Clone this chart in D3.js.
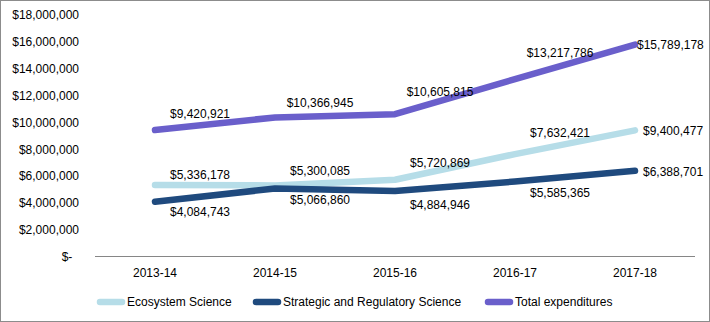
<!DOCTYPE html>
<html>
<head>
<meta charset="utf-8">
<script src="https://cdnjs.cloudflare.com/ajax/libs/d3/7.8.5/d3.min.js"></script>
<style>
  body { margin: 0; background: #fff; }
  svg text { font-family: "Liberation Sans", Arial, sans-serif; fill: #000; }
</style>
</head>
<body>
<div id="chart"></div>
<script>
// fiscal years on the x axis
var years = ["2013-14", "2014-15", "2015-16", "2016-17", "2017-18"];

// expenditures per series
var ecosystem = [5336178, 5300085, 5720869, 7632421, 9400477];
var strategic = [4084743, 5066860, 4884946, 5585365, 6388701];
var total = [9420921, 10366945, 10605815, 13217786, 15789178];

var seriesNames = ["Ecosystem Science", "Strategic and Regulatory Science", "Total expenditures"];
var yTicks = [0, 2000000, 4000000, 6000000, 8000000, 10000000, 12000000, 14000000, 16000000, 18000000];

var svg_width = 710;
var svg_height = 322;
var margins = { top: 15, bottom: 66, right: 15, left: 95 };
var width = svg_width - margins.left - margins.right;
var height = svg_height - margins.top - margins.bottom;

var svg = d3.select("#chart")
            .append("svg")
            .attr("width", svg_width)
            .attr("height", svg_height);

// outer frame
svg.append("rect")
   .attr("x", 0.5).attr("y", 0.5)
   .attr("width", svg_width - 1).attr("height", svg_height - 1)
   .style("fill", "none")
   .style("stroke", "#8c8c8c");

var g = svg.append("g")
           .attr("transform", "translate(" + margins.left + "," + margins.top + ")");

var x = d3.scaleBand()
          .domain(years)
          .range([0, width]);

var y = d3.scaleLinear()
          .domain([0, 18000000])
          .range([height + 0.5, 0]);

var money = d3.format("$,");
function tickMoney(d) { return d === 0 ? "$-  " : money(d); }

// y axis: labels only
var yAxis = d3.axisLeft(y)
              .tickValues(yTicks)
              .tickFormat(tickMoney)
              .tickSize(0)
              .tickPadding(16);

g.append("g")
 .attr("class", "y axis")
 .call(yAxis)
 .call(a => a.select(".domain").remove())
 .selectAll("text")
 .style("font-size", "12px")
 .style("white-space", "pre");

// x axis baseline and category labels
var xAxis = d3.axisBottom(x).tickSize(0).tickPadding(12);

g.append("g")
 .attr("class", "x axis")
 .attr("transform", "translate(0," + (height + 0.5) + ")")
 .call(xAxis)
 .call(a => a.select(".domain").attr("stroke", "#868686").attr("d", "M0,0H" + width))
 .selectAll("text")
 .style("font-size", "12px");

var colors = ["#b6dde8", "#1f4a7e", "#6a5fcb"];
var seriesData = [ecosystem, strategic, total];

// label placement for each series: offset from the point (last point sits to the right)
var labelDy = [
  [-10, -15, -17, -21, 0],
  [10, 11, 14, 11, 1],
  [-16, -15, -22, -26, 0]
];
var lastDx = [8, 8, 2];

var line = d3.line()
             .x((d, i) => x(years[i]) + x.bandwidth() / 2)
             .y(d => y(d));

seriesData.forEach(function(vals, s) {
  g.append("path")
   .datum(vals)
   .attr("d", line)
   .style("fill", "none")
   .style("stroke", colors[s])
   .style("stroke-width", 6.5)
   .style("stroke-linecap", "round")
   .style("stroke-linejoin", "round");
});

seriesData.forEach(function(vals, s) {
  var last = vals.length - 1;
  g.append("g")
   .attr("class", "labels")
   .selectAll("text")
   .data(vals)
   .enter()
   .append("text")
   .attr("x", (d, i) => x(years[i]) + x.bandwidth() / 2 + (i === last ? lastDx[s] : 45))
   .attr("y", (d, i) => y(d) + labelDy[s][i])
   .attr("dy", "0.35em")
   .attr("text-anchor", (d, i) => i === last ? "start" : "middle")
   .style("font-size", "12px")
   .text(d => money(d));
});

// legend along the bottom
var legendX = [97, 253, 485];
var legend = svg.append("g")
                .attr("class", "legend")
                .attr("transform", "translate(0,302)");

seriesNames.forEach(function(name, s) {
  legend.append("line")
        .attr("x1", legendX[s] + 3).attr("x2", legendX[s] + 25)
        .attr("y1", 0).attr("y2", 0)
        .style("stroke", colors[s])
        .style("stroke-width", 6.5)
        .style("stroke-linecap", "round");
  legend.append("text")
        .attr("x", legendX[s] + 30)
        .attr("y", 0)
        .attr("dy", "0.35em")
        .style("font-size", "12px")
        .text(name);
});
</script>
</body>
</html>
